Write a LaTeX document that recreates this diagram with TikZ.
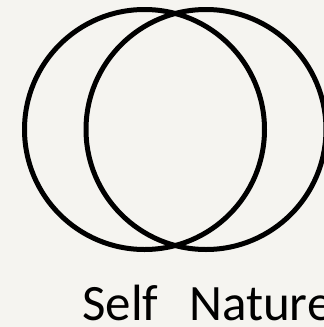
\documentclass[tikz,border=0pt]{standalone}
\usepackage{fontspec}
\setmainfont{Carlito}
\definecolor{bg}{RGB}{245,244,240}
\begin{document}
\begin{tikzpicture}[x=1pt,y=-1pt,
  ring/.style={draw=black,line width=5pt},
  lbl/.style={anchor=base west,inner sep=0pt,text depth=0pt,font=\fontsize{51}{51}\selectfont}]
\fill[bg] (0,0) rectangle (324,327);
\useasboundingbox (0,0) rectangle (324,327);
\node[ring,circle,minimum size=240pt,inner sep=0pt] (self) at (144.5,129.5) {};
\node[ring,circle,minimum size=240pt,inner sep=0pt] (nature) at (206,129.5) {};
\node[lbl] (tself) at (82,320.5) {Self};
\node[lbl] (tnature) at (189,320.5) {Nature};
\end{tikzpicture}
\end{document}
